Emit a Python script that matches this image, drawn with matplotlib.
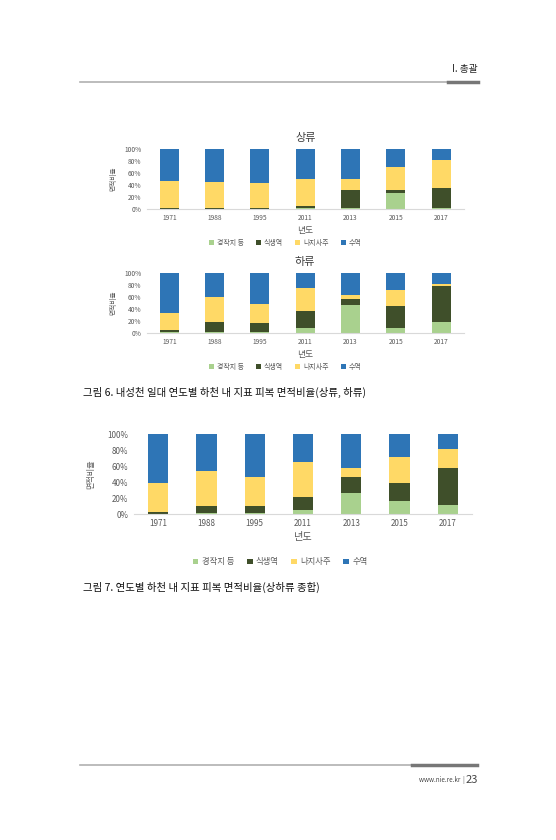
import matplotlib
matplotlib.use("Agg")
import matplotlib.pyplot as plt
from matplotlib.patches import Patch

plt.rcParams['font.family'] = ['Noto Sans CJK KR', 'DejaVu Sans']

years = ["1971", "1988", "1995", "2011", "2013", "2015", "2017"]
series_names = ["경작지 등", "식생역", "나지사주", "수역"]
colors = ["#a9d18e", "#3f4f2a", "#ffd966", "#2e75b6"]

# 상류
up_green = [0.5, 0.5, 0.5, 1, 2, 26, 1]
up_veg = [1, 1, 0.5, 4, 29, 5, 34]
up_bare = [44.5, 43.5, 42, 45, 19, 39, 46]
up_water = [54, 55, 57, 50, 50, 30, 19]

# 하류
down_green = [1, 2, 2, 8, 47, 8, 19]
down_veg = [4, 16, 14, 28, 9, 37, 59]
down_bare = [29, 42, 33, 39, 8, 27, 3]
down_water = [66, 40, 51, 25, 36, 28, 19]

# 상하류 종합
all_green = [0.5, 1.5, 1, 5, 27, 17, 11]
all_veg = [2.5, 8.5, 8.5, 17, 19, 22, 47]
all_bare = [36, 44, 37.5, 43, 12, 33, 24]
all_water = [61, 46, 53, 35, 42, 28, 18]

yticks = [0, 20, 40, 60, 80, 100]
ytick_labels = ["0%", "20%", "40%", "60%", "80%", "100%"]


def stacked(ax, data, fs, pad, width=0.42):
    bottom = [0] * len(years)
    x = range(len(years))
    for vals, c in zip(data, colors):
        ax.bar(x, vals, width, bottom=bottom, color=c)
        bottom = [b + v for b, v in zip(bottom, vals)]
    ax.set_xlim(-0.5, len(years) - 0.5)
    ax.set_ylim(0, 100)
    ax.set_yticks(yticks)
    ax.set_yticklabels(ytick_labels)
    ax.set_xticks(list(x))
    ax.set_xticklabels(years)
    for s in ["top", "right", "left"]:
        ax.spines[s].set_visible(False)
    ax.spines["bottom"].set_color("#d9d9d9")
    ax.tick_params(length=0, labelsize=fs, colors="#595959")
    ax.tick_params(axis="y", pad=4)
    ax.set_xlabel("년도", fontsize=fs + 1.5, color="#595959", labelpad=3)
    ax.set_ylabel("면적비율", fontsize=fs, color="#595959", labelpad=pad)


def legend(fs, x, y, spacing):
    handles = [Patch(facecolor=c, label=n) for c, n in zip(colors, series_names)]
    fig.legend(handles=handles, ncol=4, loc="center", bbox_to_anchor=(x, y),
               frameon=False, fontsize=fs, handlelength=0.7, handleheight=0.7,
               handletextpad=0.4, columnspacing=spacing, labelcolor="#595959")


fig = plt.figure(figsize=(5.56, 8.4), dpi=100)

ax1 = fig.add_axes([0.264, 0.7512, 0.570, 0.0714])
stacked(ax1, [up_green, up_veg, up_bare, up_water], 4.8, 5)
ax1.set_title("상류", fontsize=8, color="#404040", pad=6)
legend(5.0, 0.513, 0.7107, 1.8)

ax2 = fig.add_axes([0.264, 0.6036, 0.570, 0.0714])
stacked(ax2, [down_green, down_veg, down_bare, down_water], 4.8, 5)
ax2.set_title("하류", fontsize=8, color="#404040", pad=6)
legend(5.0, 0.513, 0.563, 1.8)

ax3 = fig.add_axes([0.241, 0.388, 0.608, 0.095])
stacked(ax3, [all_green, all_veg, all_bare, all_water], 5.8, 9)
legend(6.0, 0.504, 0.331, 1.5)

# page decorations
fig.text(0.86, 0.918, "I. 총괄", fontsize=7, ha="right", va="center", color="#222222")
fig.add_artist(plt.Line2D([0.144, 0.86], [0.902, 0.902], color="#b0b0b0", lw=1.2))
fig.add_artist(plt.Line2D([0.806, 0.86], [0.902, 0.902], color="#777777", lw=2.5))

fig.text(0.149, 0.533, "그림 6. 내성천 일대 연도별 하천 내 지표 피복 면적비율(상류, 하류)",
         fontsize=7.5, ha="left", va="center", color="#111111")
fig.text(0.149, 0.301, "그림 7. 연도별 하천 내 지표 피복 면적비율(상하류 종합)",
         fontsize=7.5, ha="left", va="center", color="#111111")

fig.add_artist(plt.Line2D([0.144, 0.858], [0.089, 0.089], color="#b0b0b0", lw=1.2))
fig.add_artist(plt.Line2D([0.741, 0.858], [0.089, 0.089], color="#777777", lw=2.5))
fig.text(0.835, 0.071, "www.nie.re.kr  |", fontsize=4.5, ha="right", va="center", color="#444444")
fig.text(0.837, 0.072, "23", fontsize=8, ha="left", va="center", color="#444444")

fig.savefig("out.png", dpi=100)
